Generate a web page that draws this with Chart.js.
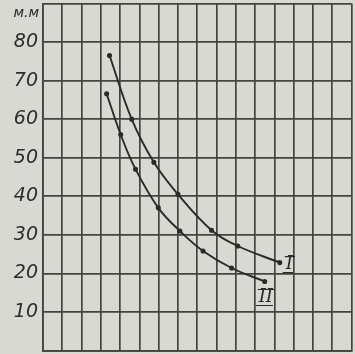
<!DOCTYPE html>
<html>
<head>
<meta charset="utf-8">
<script src="https://cdn.jsdelivr.net/npm/chart.js@4/dist/chart.umd.min.js"></script>
<style>
  html, body { margin: 0; padding: 0; background: #d8d9d2; }
  #wrap { position: relative; width: 355px; height: 354px; }
</style>
</head>
<body>
<div id="wrap"><canvas id="chart" width="355" height="354"></canvas></div>
<script>
  // curve I
  let curve1X = [3.45, 4.6, 5.75, 7.0, 8.74, 10.1, 12.28];
  let curve1Y = [76.5, 60, 48.8, 40.5, 31.2, 27.1, 22.8];
  // curve II
  let curve2X = [3.3, 4.03, 4.8, 5.98, 7.1, 8.3, 9.78, 11.5];
  let curve2Y = [66.6, 56, 47, 37, 31, 25.8, 21.4, 17.9];

  let curveNames = ['I', 'II'];
  let yTicks = [10, 20, 30, 40, 50, 60, 70, 80];
  let yUnit = 'м.м';

  let ink = '#2a2a28';

  function toPoints(xs, ys) {
    return xs.map((x, i) => ({ x: x, y: ys[i] }));
  }

  function curve(label, xs, ys) {
    return {
      label: label,
      data: toPoints(xs, ys),
      showLine: true,
      borderColor: ink,
      backgroundColor: ink,
      borderWidth: 1.9,
      pointRadius: 1.6,
      pointHoverRadius: 1.6,
      tension: 0.4
    };
  }

  // roman numerals next to curve ends, and the unit label
  let labelPlugin = {
    id: 'labels',
    afterDatasetsDraw(chart) {
      let ctx = chart.ctx;
      ctx.save();
      ctx.fillStyle = ink;
      ctx.strokeStyle = ink;
      ctx.font = 'italic 18px "DejaVu Serif"';
      ctx.textBaseline = 'middle';
      let offsets = [[6, 2], [-6, 16]];
      chart.data.datasets.forEach((ds, i) => {
        let meta = chart.getDatasetMeta(i);
        let last = meta.data[meta.data.length - 1];
        let px = last.x + offsets[i][0];
        let py = last.y + offsets[i][1];
        ctx.textAlign = 'left';
        ctx.fillText(curveNames[i], px, py);
        let w = ctx.measureText(curveNames[i]).width;
        ctx.lineWidth = 1.2;
        ctx.beginPath();
        ctx.moveTo(px - 1, py - 8); ctx.lineTo(px + w + 2, py - 8);
        ctx.moveTo(px - 3, py + 8); ctx.lineTo(px + w, py + 8);
        ctx.stroke();
      });
      ctx.font = 'italic 14px "DejaVu Sans"';
      ctx.textAlign = 'right';
      ctx.textBaseline = 'middle';
      ctx.fillText(yUnit, chart.chartArea.left - 4, chart.chartArea.top + 10);
      ctx.restore();
    }
  };

  new Chart(document.getElementById('chart').getContext('2d'), {
    type: 'scatter',
    data: {
      datasets: [curve(curveNames[0], curve1X, curve1Y), curve(curveNames[1], curve2X, curve2Y)]
    },
    options: {
      responsive: false,
      animation: false,
      layout: { padding: { top: 2, right: 3, bottom: 3, left: 0 } },
      plugins: { legend: { display: false }, tooltip: { enabled: false } },
      scales: {
        x: {
          type: 'linear',
          min: 0,
          max: 16,
          ticks: { display: false, stepSize: 1 },
          grid: { color: '#45453f', lineWidth: 1.7, drawTicks: false },
          border: { color: '#45453f', width: 1.7 }
        },
        y: {
          min: 0,
          max: 90,
          afterFit: scale => {
            scale.width = 43;
            scale.paddingTop = 0;
            scale.paddingBottom = 0;
          },
          afterBuildTicks: scale => {
            scale.ticks = [0].concat(yTicks, [90]).map(v => ({ value: v }));
          },
          ticks: {
            padding: 5,
            color: '#2c2c2a',
            font: { family: 'DejaVu Sans', style: 'italic', size: 19 },
            callback: v => yTicks.includes(v) ? String(v) : ''
          },
          grid: { color: '#45453f', lineWidth: 1.7, drawTicks: false },
          border: { color: '#45453f', width: 1.7 }
        }
      }
    },
    plugins: [labelPlugin]
  });
</script>
</body>
</html>
